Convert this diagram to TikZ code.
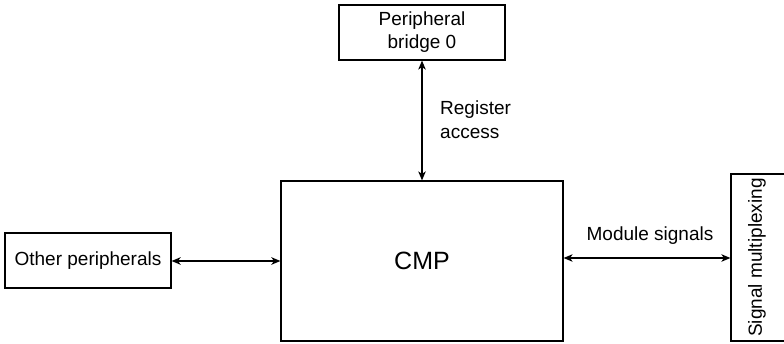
\documentclass[tikz,border=0pt]{standalone}
\usepackage{fontspec}
\setmainfont{Liberation Sans}
\usetikzlibrary{arrows.meta}
\begin{document}
\begin{tikzpicture}[x=1pt,y=1pt,
  box/.style={draw,line width=1.2pt,inner sep=0pt,font=\fontsize{19}{23}\selectfont,align=center},
  lbl/.style={inner sep=0pt,font=\fontsize{19}{24}\selectfont,align=left},
  conn/.style={line width=1.3pt,{Stealth[length=9pt,width=7.5pt,inset=2.5pt]}-{Stealth[length=9pt,width=7.5pt,inset=2.5pt]}}]
\useasboundingbox (0,0) rectangle (784,343);
\node[box,minimum width=166pt,minimum height=55pt] (bridge) at (422,310.5) {Peripheral\\bridge 0};
\node[box,minimum width=282pt,minimum height=160pt,font=\fontsize{25}{30}\selectfont] (cmp) at (422,82) {CMP};
\node[box,minimum width=166pt,minimum height=55pt] (other) at (88,82.5) {Other peripherals};
\node[box,minimum width=60pt,minimum height=167pt] (sig) at (761,85.5) {};
\node[inner sep=0pt,rotate=90,font=\fontsize{19}{23}\selectfont] (sigtext) at (757,85.5) {Signal multiplexing};
\draw[conn] (bridge.south) -- (cmp.north);
\coordinate (ls) at (other.east |- 0,82);
\draw[conn,line width=1.6pt] (ls) -- (cmp.west |- ls);
\coordinate (rs) at (cmp.east |- 0,85);
\draw[conn] (rs) -- (sig.west |- rs);
\node[lbl,anchor=west] (reg) at (440,223) {Register\\access};
\node[lbl] (mod) at (650,107) {Module signals};
\end{tikzpicture}
\end{document}
